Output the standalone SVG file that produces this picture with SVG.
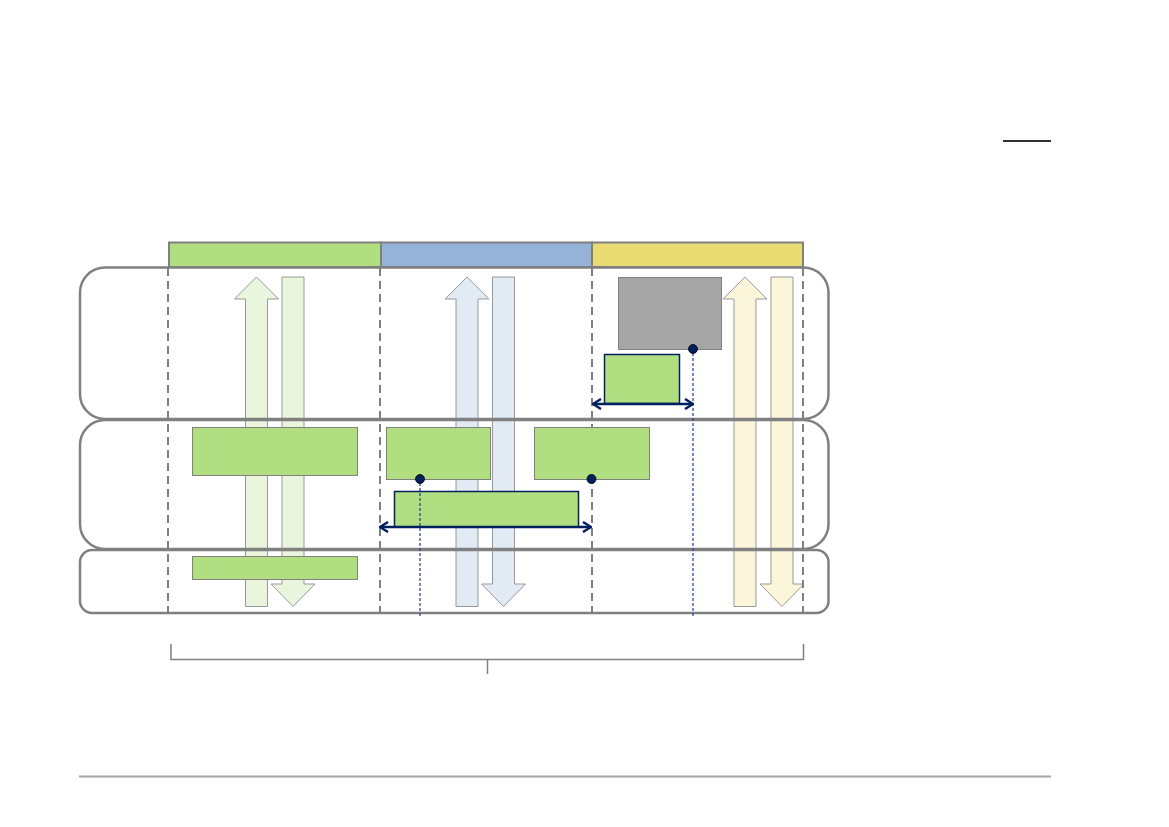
<svg xmlns="http://www.w3.org/2000/svg" width="1169" height="827" viewBox="0 0 1169 827">
<style>
.hdr{stroke:#808080;stroke-width:2}
.lane{fill:none;stroke:#808080;stroke-width:2.5}
.div{stroke:#808080;stroke-width:2;stroke-dasharray:8 5;fill:none}
.arr{stroke:#999999;stroke-width:1}
.ag{fill:#EAF5DE}
.ab{fill:#E2EAF4}
.ay{fill:#FBF5D9}
.box{fill:#B2DE82;stroke:#808080;stroke-width:1}
.nbox{fill:#B2DE82;stroke:#002060;stroke-width:1.5}
.gray{fill:#A6A6A6;stroke:#808080;stroke-width:1}
.dbl{stroke:#002060;stroke-width:2.5;fill:none}
.dot{fill:#002060;stroke:#000;stroke-width:0.8}
.dotted{stroke:#1F3A8A;stroke-width:1.2;stroke-dasharray:3 2;fill:none}
.br{stroke:#808080;stroke-width:1.5;fill:none}
</style>
<defs>
<marker id="chev" viewBox="0 0 10 12" refX="9" refY="6" markerWidth="10" markerHeight="12" markerUnits="userSpaceOnUse" orient="auto-start-reverse">
<path d="M1,1 L9,6 L1,11" fill="none" stroke="#002060" stroke-width="2.5"/>
</marker>
</defs>
<rect width="1169" height="827" fill="#fff"/>
<line x1="1003" y1="141" x2="1051" y2="141" stroke="#303030" stroke-width="2"/>
<g id="header">
<rect class="hdr" x="169" y="242.5" width="212" height="24.5" fill="#B2DE82"/>
<rect class="hdr" x="381" y="242.5" width="211" height="24.5" fill="#95B3D7"/>
<rect class="hdr" x="592" y="242.5" width="211" height="24.5" fill="#E9DB72"/>
</g>
<g id="flow-arrows">
<polygon id="green-up" class="arr ag" points="245.5,606.5 245.5,299 234.5,299 256.5,277 278.5,299 267.5,299 267.5,606.5"/>
<polygon id="green-down" class="arr ag" points="282,277 304,277 304,584 315,584 293,606.5 271,584 282,584"/>
<polygon id="blue-up" class="arr ab" points="456,606.5 456,299 445,299 467,277 489,299 478,299 478,606.5"/>
<polygon id="blue-down" class="arr ab" points="492.5,277 514.5,277 514.5,584 525.5,584 503.5,606.5 481.5,584 492.5,584"/>
<polygon id="yellow-up" class="arr ay" points="734,606.5 734,299 723,299 745,277 767,299 756,299 756,606.5"/>
<polygon id="yellow-down" class="arr ay" points="771,277 793,277 793,584 804,584 782,606.5 760,584 771,584"/>
</g>
<g id="lanes">
<rect id="lane1" class="lane" x="80" y="267.5" width="748.5" height="151.5" rx="25"/>
<rect id="lane2" class="lane" x="80" y="420" width="748.5" height="129" rx="25"/>
<rect id="lane3" class="lane" x="80" y="550" width="748.5" height="63" rx="12"/>
</g>
<g id="dividers">
<line class="div" x1="168" y1="268" x2="168" y2="613"/>
<line class="div" x1="380" y1="268" x2="380" y2="613"/>
<line class="div" x1="592" y1="268" x2="592" y2="613"/>
<line class="div" x1="803" y1="268" x2="803" y2="613"/>
</g>
<g id="node-gray"><rect class="gray" x="618.5" y="277.5" width="103" height="72"/></g>
<g id="node-c1"><rect class="nbox" x="604.5" y="354.5" width="75" height="49"/></g>
<g id="node-a"><rect class="box" x="192.5" y="427.5" width="165" height="48"/></g>
<g id="node-b"><rect class="box" x="386.5" y="427.5" width="104" height="52"/></g>
<g id="node-c"><rect class="box" x="534.5" y="427.5" width="115" height="52"/></g>
<g id="node-d"><rect class="nbox" x="394.5" y="491.5" width="184" height="35.5"/></g>
<g id="node-e"><rect class="box" x="192.5" y="556.5" width="165" height="23"/></g>
<g id="connectors">
<line class="dotted" x1="693" y1="353" x2="693" y2="617"/>
<line class="dotted" x1="420" y1="483" x2="420" y2="617"/>
<line class="dbl" x1="593" y1="404" x2="693" y2="404" marker-start="url(#chev)" marker-end="url(#chev)"/>
<line class="dbl" x1="380" y1="527" x2="591" y2="527" marker-start="url(#chev)" marker-end="url(#chev)"/>
<circle class="dot" cx="693" cy="349" r="4.5"/>
<circle class="dot" cx="420" cy="479" r="4.5"/>
<circle class="dot" cx="591.5" cy="479" r="4.5"/>
</g>
<g id="bracket">
<polyline class="br" points="171,644 171,659.5 803.5,659.5 803.5,644"/>
<line class="br" x1="487.5" y1="659.5" x2="487.5" y2="674"/>
</g>
<line x1="79" y1="776.5" x2="1051" y2="776.5" stroke="#A6A6A6" stroke-width="2"/>
</svg>
